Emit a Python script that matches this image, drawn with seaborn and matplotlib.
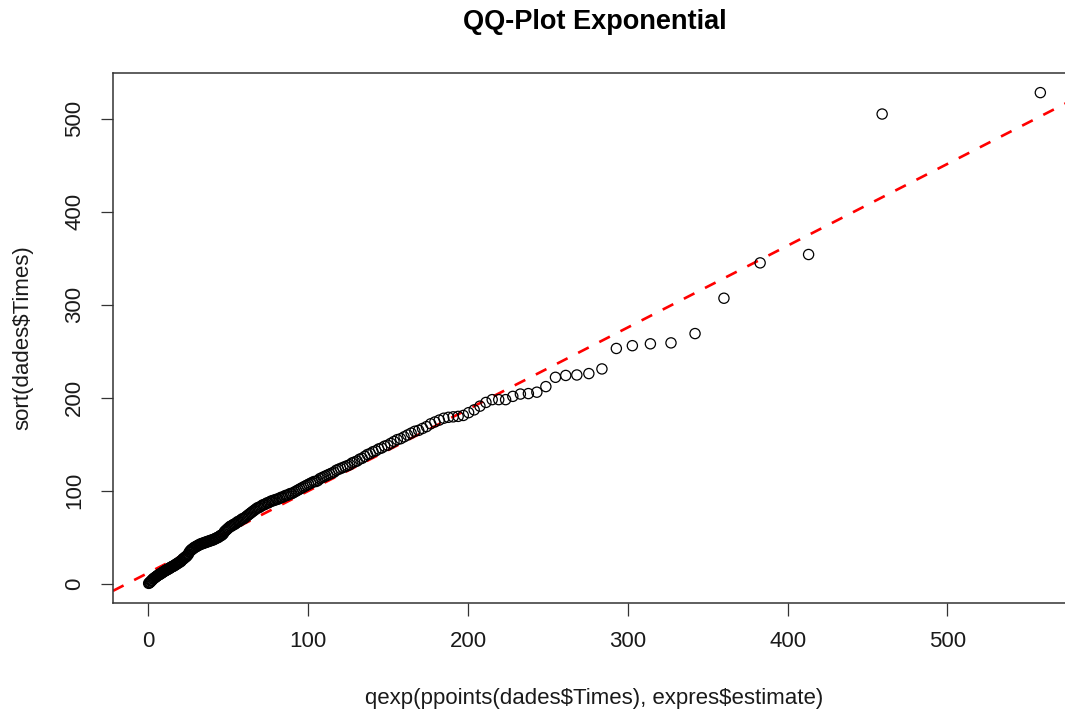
import numpy as np
import pandas as pd
import matplotlib
matplotlib.use("Agg")
import matplotlib.pyplot as plt
import seaborn as sns

# ---- data ----
title = "QQ-Plot Exponential"
x_label = "qexp(ppoints(dades$Times), expres$estimate)"
y_label = "sort(dades$Times)"

# estimated exponential rate (expres$estimate)
rate_estimate = 1 / 90.1

times_sorted = [
    0.5, 1, 1.5, 2, 3, 3.5, 4, 5, 5.5, 6,
    6.5, 7, 7.5, 8, 8.5, 9, 9.5, 10, 10, 11,
    11, 11.5, 12, 12.5, 13, 13.5, 14, 14, 15, 15,
    15.5, 16, 16, 17, 17, 18, 18, 18.5, 19, 19,
    20, 20, 21, 21, 22, 22, 23, 23, 24, 24,
    25, 26, 27, 27, 28, 29, 29, 30, 31, 32,
    34, 35, 36, 37, 37, 38, 39, 39, 40, 40,
    41, 41, 42, 42, 43, 43, 43, 44, 44, 44,
    45, 45, 45, 46, 46, 46, 47, 47, 47, 48,
    48, 49, 49, 50, 50, 51, 52, 52, 53, 54,
    56, 57, 58, 59, 60, 61, 62, 62, 63, 64,
    64, 65, 66, 67, 67, 68, 69, 70, 70, 71,
    72, 73, 74, 75, 76, 77, 78, 79, 80, 81,
    82, 82, 83, 84, 85, 85, 86, 87, 87, 88,
    89, 89, 90, 90, 91, 91, 92, 93, 93, 94,
    95, 95, 96, 97, 97, 98, 99, 100, 101, 102,
    103, 104, 105, 106, 107, 108, 109, 110, 110, 111,
    113, 114, 115, 116, 117, 118, 119, 120, 122, 123,
    124, 125, 126, 127, 128, 130, 131, 132, 134, 135,
    137, 139, 140, 142, 143, 145, 146, 148, 149, 151,
    153, 155, 156, 158, 160, 162, 164, 165, 167, 169,
    172, 174, 176, 178, 179, 179.5, 180, 181, 184, 187,
    191, 195, 198, 198, 198, 201.5, 204, 204.5, 206, 212,
    222, 224, 224.5, 226, 231, 253, 256, 258, 259, 269,
    307, 345, 354, 505, 528,
]

# reference line (abline)
line_intercept = 11.9
line_slope = 0.879

x_ticks = [0, 100, 200, 300, 400, 500]
y_ticks = [0, 100, 200, 300, 400, 500]

# ---- theoretical quantiles: qexp(ppoints(n), rate) ----
n = len(times_sorted)
ppts = (np.arange(1, n + 1) - 0.5) / n
theo = -np.log(1 - ppts) / rate_estimate
df = pd.DataFrame({"theo": theo, "obs": times_sorted})

# ---- styling ----
sns.set_theme(style="white")
plt.rcParams["font.family"] = ["Liberation Sans", "DejaVu Sans"]
plt.rcParams["text.parse_math"] = False

W, H = 1065, 715
fig = plt.figure(figsize=(W / 100, H / 100), dpi=100)
left, right, top, bottom = 113, 1076, 73, 603
ax = fig.add_axes([left / W, 1 - bottom / H, (right - left) / W, (bottom - top) / H])

ax.axline((0, line_intercept), slope=line_slope, color="#ff0000", lw=1.9,
          linestyle=(0, (4.5, 4.5)), zorder=2)

sns.scatterplot(data=df, x="theo", y="obs", ax=ax, marker="o", s=54,
                facecolors="none", edgecolor="black", linewidth=0.9, zorder=3,
                legend=False)

xr = theo.max() - theo.min()
yr = max(times_sorted) - min(times_sorted)
ax.set_xlim(theo.min() - 0.04 * xr, theo.max() + 0.04 * xr)
ax.set_ylim(min(times_sorted) - 0.04 * yr, max(times_sorted) + 0.04 * yr)

ax.set_xticks(x_ticks)
ax.set_yticks(y_ticks)
ax.set_xticklabels([str(v) for v in x_ticks])
ax.set_yticklabels([str(v) for v in y_ticks], rotation=90, va="center")
ax.tick_params(axis="both", direction="out", length=9, width=0.9, color="#333333",
               labelsize=16, labelcolor="#1a1a1a", pad=11,
               bottom=True, left=True)

for s in ax.spines.values():
    s.set_color("#333333")
    s.set_linewidth(1.1)

ax.set_xlabel(x_label, fontsize=16, color="#1a1a1a", labelpad=26, parse_math=False)
ax.set_ylabel(y_label, fontsize=16, color="#1a1a1a", labelpad=22, parse_math=False)

fig.text((left + right) / 2 / W, 1 - 22 / H, title, ha="center", va="center",
         fontsize=19.5, fontweight="bold", color="black")

fig.savefig("out.png", dpi=100, facecolor="white")
